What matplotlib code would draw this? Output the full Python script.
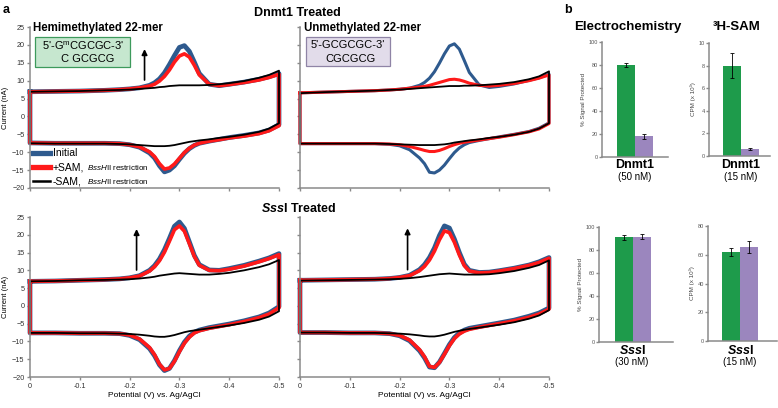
import numpy as np
import matplotlib
matplotlib.use('Agg')
import matplotlib.pyplot as plt
from matplotlib.patches import Rectangle
from matplotlib.lines import Line2D

plt.rcParams['font.family'] = ['Liberation Sans', 'DejaVu Sans']
plt.rcParams['mathtext.fontset'] = 'custom'
plt.rcParams['mathtext.rm'] = 'Liberation Sans'
plt.rcParams['mathtext.it'] = 'Liberation Sans:italic'
plt.rcParams['mathtext.bf'] = 'Liberation Sans:bold'
try:
    plt.rcParams['mathtext.bfit'] = 'Liberation Sans:italic:bold'
    HAS_BFIT = True
except KeyError:
    HAS_BFIT = False

W, H = 778, 408

COLOR_INITIAL = '#2e5a8e'
COLOR_SAM = '#ff1a1a'
COLOR_NOSAM = 'black'
COLOR_HEMI = '#1e9b4b'
COLOR_UNMETH = '#9b86be'
AXIS_GREY = '#8a8a8a'

# potential magnitude (V), plotted as negative values
potential = [0.00, 0.05, 0.10, 0.15, 0.18, 0.20, 0.22, 0.24, 0.25, 0.26, 0.27, 0.28, 0.29,
             0.30, 0.31, 0.32, 0.33, 0.34, 0.36, 0.38, 0.40, 0.43, 0.46, 0.48, 0.50]

# Dnmt1, hemimethylated
hemi_init_ox = [6.9, 7.0, 7.1, 7.3, 7.5, 7.7, 8.0, 8.7, 9.4, 10.5, 12.2, 14.5, 17.0, 19.3, 19.8, 18.2, 15.2, 12.0, 9.0, 8.6, 9.0, 9.6, 10.4, 11.1, 12.0]
hemi_sam_ox = [6.9, 7.0, 7.1, 7.3, 7.5, 7.7, 8.0, 8.5, 9.0, 9.9, 11.2, 13.0, 15.2, 16.9, 17.5, 16.6, 14.3, 11.6, 9.0, 8.6, 8.9, 9.5, 10.2, 10.9, 11.8]
hemi_nosam_ox = [6.9, 7.0, 7.1, 7.3, 7.4, 7.5, 7.7, 7.9, 8.0, 8.2, 8.3, 8.5, 8.6, 8.7, 8.7, 8.7, 8.7, 8.7, 8.8, 9.0, 9.3, 9.9, 10.8, 11.6, 12.8]
hemi_init_red = [-7.4, -7.5, -7.5, -7.5, -7.6, -7.9, -8.6, -10.2, -11.6, -13.8, -15.5, -15.0, -13.8, -12.0, -10.3, -9.0, -8.1, -7.5, -6.9, -6.4, -5.9, -5.3, -4.6, -3.8, -2.3]
hemi_sam_red = [-7.4, -7.5, -7.5, -7.5, -7.6, -7.9, -8.5, -9.9, -11.2, -13.2, -14.7, -14.4, -13.3, -11.7, -10.1, -8.9, -8.0, -7.5, -6.9, -6.5, -6.0, -5.5, -4.8, -4.0, -2.6]
hemi_nosam_red = [-7.5, -7.6, -7.6, -7.6, -7.7, -7.8, -8.0, -8.2, -8.3, -8.3, -8.3, -8.2, -8.0, -7.7, -7.4, -7.1, -6.9, -6.7, -6.4, -6.0, -5.7, -5.1, -4.3, -3.4, -1.9]

# Dnmt1, unmethylated
unmeth_init_ox = [6.6, 6.8, 7.0, 7.2, 7.4, 7.6, 7.9, 8.7, 9.5, 10.7, 12.5, 14.9, 17.5, 19.7, 20.3, 18.8, 15.6, 12.3, 8.8, 8.1, 8.4, 9.1, 10.1, 10.8, 11.8]
unmeth_sam_ox = [6.6, 6.8, 7.0, 7.2, 7.4, 7.6, 7.9, 8.2, 8.4, 8.7, 9.1, 9.5, 9.9, 10.3, 10.4, 10.2, 9.8, 9.3, 8.7, 8.5, 8.7, 9.2, 10.0, 10.7, 11.6]
unmeth_nosam_ox = [6.5, 6.8, 7.0, 7.2, 7.4, 7.5, 7.7, 7.9, 8.0, 8.1, 8.2, 8.3, 8.4, 8.5, 8.5, 8.5, 8.6, 8.6, 8.7, 8.9, 9.1, 9.6, 10.4, 11.2, 12.6]
unmeth_init_red = [-7.6, -7.6, -7.6, -7.6, -7.8, -8.2, -9.3, -11.6, -13.2, -15.6, -15.8, -15.0, -13.6, -11.8, -10.1, -8.8, -7.9, -7.3, -6.7, -6.2, -5.7, -5.0, -4.2, -3.3, -1.8]
unmeth_sam_red = [-7.6, -7.6, -7.6, -7.6, -7.7, -7.9, -8.4, -9.1, -9.5, -9.8, -9.8, -9.5, -9.0, -8.4, -7.9, -7.5, -7.2, -7.0, -6.6, -6.2, -5.8, -5.1, -4.3, -3.5, -2.0]
unmeth_nosam_red = [-7.6, -7.6, -7.6, -7.6, -7.7, -7.8, -7.9, -8.0, -8.0, -8.0, -8.0, -7.9, -7.8, -7.6, -7.3, -7.1, -6.9, -6.7, -6.4, -6.0, -5.7, -5.1, -4.3, -3.4, -1.9]

# SssI, hemimethylated
sss_hemi_init_ox = [6.9, 7.0, 7.2, 7.4, 7.6, 7.9, 8.5, 10.0, 11.3, 13.2, 15.8, 19.0, 22.4, 23.6, 21.8, 18.0, 14.2, 11.6, 10.1, 10.0, 10.5, 11.4, 12.6, 13.5, 14.7]
sss_hemi_sam_ox = [6.9, 7.0, 7.2, 7.4, 7.6, 7.9, 8.4, 9.8, 11.0, 12.7, 15.1, 18.2, 21.4, 22.5, 21.0, 17.5, 13.9, 11.4, 10.0, 9.9, 10.3, 11.2, 12.4, 13.3, 14.4]
sss_hemi_nosam_ox = [6.9, 7.0, 7.2, 7.3, 7.4, 7.5, 7.7, 8.0, 8.2, 8.5, 8.7, 8.9, 9.1, 9.2, 9.1, 9.0, 8.9, 8.8, 8.8, 9.0, 9.3, 10.0, 10.9, 11.7, 12.9]
sss_hemi_init_red = [-7.6, -7.6, -7.7, -7.7, -7.8, -8.3, -9.5, -12.0, -14.0, -16.6, -18.2, -17.6, -15.4, -12.6, -10.2, -8.5, -7.4, -6.8, -6.1, -5.6, -5.1, -4.2, -3.1, -2.0, -0.2]
sss_hemi_sam_red = [-7.6, -7.6, -7.7, -7.7, -7.8, -8.2, -9.3, -11.7, -13.7, -16.4, -18.0, -17.6, -15.6, -12.9, -10.5, -8.8, -7.6, -7.0, -6.3, -5.8, -5.3, -4.4, -3.3, -2.3, -0.5]
sss_hemi_nosam_red = [-7.6, -7.6, -7.7, -7.7, -7.8, -7.9, -8.1, -8.4, -8.6, -8.7, -8.7, -8.5, -8.2, -7.8, -7.4, -7.1, -6.9, -6.7, -6.3, -5.9, -5.5, -4.8, -3.9, -3.0, -1.5]

# SssI, unmethylated
sss_unmeth_init_ox = [7.2, 7.3, 7.4, 7.5, 7.7, 8.0, 8.6, 10.2, 11.6, 13.6, 16.3, 19.8, 22.5, 21.9, 18.8, 15.0, 11.7, 10.0, 9.4, 9.5, 9.9, 10.6, 11.5, 12.4, 13.6]
sss_unmeth_sam_ox = [7.2, 7.3, 7.4, 7.5, 7.7, 8.0, 8.5, 9.9, 11.1, 12.9, 15.4, 18.6, 21.1, 20.6, 17.9, 14.3, 11.3, 9.8, 9.3, 9.4, 9.8, 10.5, 11.4, 12.2, 13.4]
sss_unmeth_nosam_ox = [7.1, 7.2, 7.3, 7.4, 7.5, 7.6, 7.8, 8.1, 8.3, 8.5, 8.7, 8.9, 9.0, 9.1, 9.0, 8.9, 8.8, 8.8, 8.8, 8.9, 9.2, 9.8, 10.7, 11.5, 12.8]
sss_unmeth_init_red = [-7.5, -7.5, -7.6, -7.6, -7.8, -8.4, -9.8, -12.6, -14.6, -17.2, -17.4, -15.8, -13.4, -10.9, -8.9, -7.6, -6.8, -6.3, -5.8, -5.3, -4.8, -4.0, -2.9, -2.0, -0.6]
sss_unmeth_sam_red = [-7.5, -7.5, -7.6, -7.6, -7.8, -8.3, -9.6, -12.3, -14.3, -17.0, -17.3, -15.9, -13.6, -11.2, -9.2, -7.9, -7.1, -6.6, -6.0, -5.5, -5.0, -4.2, -3.2, -2.3, -0.9]
sss_unmeth_nosam_red = [-7.5, -7.5, -7.6, -7.6, -7.7, -7.8, -8.0, -8.3, -8.5, -8.6, -8.6, -8.4, -8.1, -7.7, -7.3, -7.0, -6.7, -6.5, -6.1, -5.7, -5.3, -4.6, -3.6, -2.7, -1.2]

x_tick_values = [0, -0.1, -0.2, -0.3, -0.4, -0.5]
x_tick_labels = ['0', '-0.1', '-0.2', '-0.3', '-0.4', '-0.5']

# panel b bars: [hemimethylated, unmethylated]
ec_dnmt1 = [80, 18]
ec_dnmt1_err = [1.8, 2.0]
sam_dnmt1 = [8.0, 0.65]
sam_dnmt1_err = [1.1, 0.08]
ec_sss = [91, 91.5]
ec_sss_err = [2.0, 2.0]
sam_sss = [62, 65.5]
sam_sss_err = [3.0, 4.0]

fig = plt.figure(figsize=(W / 100, H / 100), dpi=100)


def px_axes(x0, y0, x1, y1):
    return fig.add_axes([x0 / W, 1 - y1 / H, (x1 - x0) / W, (y1 - y0) / H])


def px_text(x, y, s, **kw):
    kw.setdefault('va', 'center')
    return fig.text(x / W, 1 - y / H, s, **kw)


def sss_label(x_center, x_split, y, tail, size=9):
    # bold-italic "Sss" followed by upright bold tail
    if HAS_BFIT:
        px_text(x_center, y, '$\\mathbfit{Sss}$' + tail, fontsize=size, fontweight='bold', ha='center')
    else:
        px_text(x_split, y, 'Sss', fontsize=size, fontweight='bold', style='italic', ha='right')
        px_text(x_split - 1, y, tail, fontsize=size, fontweight='bold', ha='left')


def style_spines(ax):
    for s in ['top', 'right']:
        ax.spines[s].set_visible(False)
    for s in ['left', 'bottom']:
        ax.spines[s].set_color(AXIS_GREY)
        ax.spines[s].set_linewidth(1.1)
    ax.tick_params(color=AXIS_GREY, width=1.0, length=2.5, labelcolor='#333333')


def cv_panel(ax, curves, show_x, show_y):
    E = -np.array(potential)
    for up, down, color, lw in curves:
        xs = np.concatenate([E, E[::-1], E[:1]])
        ys = np.concatenate([up, down[::-1], up[:1]])
        ax.plot(xs, ys, color=color, lw=lw, solid_joinstyle='round', clip_on=False)
    ax.set_xlim(0, -0.5)
    ax.set_ylim(-20, 25)
    ax.set_xticks(x_tick_values)
    ax.set_yticks(range(-20, 26, 5))
    style_spines(ax)
    ax.tick_params(labelsize=5.2, pad=1.5)
    if show_x:
        ax.set_xticklabels(x_tick_labels)
        ax.set_xlabel('Potential (V) vs. Ag/AgCl', fontsize=6, labelpad=2)
    else:
        ax.set_xticklabels([])
    if show_y:
        ax.set_ylabel('Current (nA)', fontsize=5.5, labelpad=2)
    else:
        ax.set_yticklabels([])


ax_tl = px_axes(30, 27, 279, 188)
ax_tr = px_axes(300, 27, 549, 188)
ax_bl = px_axes(30, 217, 279, 377)
ax_br = px_axes(300, 217, 549, 377)

cv_panel(ax_tl, [(hemi_init_ox, hemi_init_red, COLOR_INITIAL, 3.4),
                 (hemi_sam_ox, hemi_sam_red, COLOR_SAM, 2.6),
                 (hemi_nosam_ox, hemi_nosam_red, COLOR_NOSAM, 1.3)], False, True)
cv_panel(ax_tr, [(unmeth_init_ox, unmeth_init_red, COLOR_INITIAL, 2.2),
                 (unmeth_sam_ox, unmeth_sam_red, COLOR_SAM, 2.2),
                 (unmeth_nosam_ox, unmeth_nosam_red, COLOR_NOSAM, 1.3)], False, False)
cv_panel(ax_bl, [(sss_hemi_init_ox, sss_hemi_init_red, COLOR_INITIAL, 3.4),
                 (sss_hemi_sam_ox, sss_hemi_sam_red, COLOR_SAM, 2.6),
                 (sss_hemi_nosam_ox, sss_hemi_nosam_red, COLOR_NOSAM, 1.3)], True, True)
cv_panel(ax_br, [(sss_unmeth_init_ox, sss_unmeth_init_red, COLOR_INITIAL, 3.4),
                 (sss_unmeth_sam_ox, sss_unmeth_sam_red, COLOR_SAM, 2.6),
                 (sss_unmeth_nosam_ox, sss_unmeth_nosam_red, COLOR_NOSAM, 1.3)], True, False)

arrow_kw = dict(arrowstyle='-|>', color='black', lw=1.2, mutation_scale=8)
ax_tl.annotate('', xy=(-0.23, 19.6), xytext=(-0.23, 9.4), arrowprops=arrow_kw)
ax_bl.annotate('', xy=(-0.214, 22.4), xytext=(-0.214, 9.3), arrowprops=arrow_kw)
ax_br.annotate('', xy=(-0.216, 22.6), xytext=(-0.216, 9.4), arrowprops=arrow_kw)

# sequence boxes
fig.add_artist(Rectangle((35 / W, 1 - 67 / H), 95 / W, 30 / H, transform=fig.transFigure,
                         facecolor='#c6e7cf', edgecolor='#3d9a5c', lw=0.9))
fig.add_artist(Rectangle((306 / W, 1 - 66 / H), 84 / W, 29 / H, transform=fig.transFigure,
                         facecolor='#e2dcea', edgecolor='#8f84a6', lw=0.9))
px_text(83, 45.5, "5'-G$^{\\mathrm{m}}$CGCGC-3'", ha='center', fontsize=8.0)
px_text(88, 59, 'C GCGCG', ha='center', fontsize=8.0)
px_text(348, 45.5, "5'-GCGCGC-3'", ha='center', fontsize=8.0)
px_text(350, 59, 'CGCGCG', ha='center', fontsize=8.0)

# legend
legend_rows = [(153, COLOR_INITIAL, 3.8, 'Initial', False),
               (167, COLOR_SAM, 3.8, '+SAM,', True),
               (181, COLOR_NOSAM, 1.8, '-SAM,', True)]
for y, color, lw, main, extra in legend_rows:
    fig.add_artist(Line2D([33 / W, 50 / W], [1 - y / H] * 2, transform=fig.transFigure, color=color, lw=lw))
    px_text(53, y, main, fontsize=7.5, ha='left')
    if extra:
        px_text(87, y + 0.5, '$\\it{BssH}$II restriction', fontsize=5.8, ha='left')

# panel titles
px_text(3, 10, 'a', fontsize=9, fontweight='bold')
px_text(297, 13, 'Dnmt1 Treated', fontsize=9, fontweight='bold', ha='center')
sss_label(299, 281, 208, 'I Treated')
px_text(33, 28, 'Hemimethylated 22-mer', fontsize=8.3, fontweight='bold')
px_text(304, 28, 'Unmethylated 22-mer', fontsize=8.3, fontweight='bold')

px_text(564, 10, 'b', fontsize=9, fontweight='bold')
px_text(628, 27, 'Electrochemistry', fontsize=9.5, fontweight='bold', ha='center')
px_text(737, 27, '³H-SAM', fontsize=9.5, fontweight='bold', ha='center')


def bar_panel(x0, y0, x1, y1, bar_left, values, errs, ymax, ystep, ylabel):
    ax = px_axes(x0, y0, x1, y1)
    unit = 18.0
    left = -0.5 - (bar_left - x0) / unit
    ax.bar([0, 1], values, width=1.0, color=[COLOR_HEMI, COLOR_UNMETH], yerr=errs,
           error_kw=dict(ecolor='black', elinewidth=0.6, capsize=1.2, capthick=0.6))
    ax.set_xlim(left, left + (x1 - x0) / unit)
    ax.set_ylim(0, ymax)
    ax.set_yticks(np.arange(0, ymax + 0.01, ystep))
    ax.set_xticks([])
    style_spines(ax)
    ax.tick_params(labelsize=4, pad=1, length=2, labelcolor='#555555')
    ax.set_ylabel(ylabel, fontsize=4.5, labelpad=2, color='#444444')
    return ax


bar_panel(602, 42, 668, 157, 617, ec_dnmt1, ec_dnmt1_err, 100, 20, '% Signal Protected')
bar_panel(709, 43, 770, 156, 723, sam_dnmt1, sam_dnmt1_err, 10, 2, 'CPM (x 10³)')
bar_panel(599, 227, 673, 342, 615, ec_sss, ec_sss_err, 100, 20, '% Signal Protected')
bar_panel(708, 226, 777, 341, 722, sam_sss, sam_sss_err, 80, 20, 'CPM (x 10³)')

px_text(635, 165, 'Dnmt1', fontsize=9, fontweight='bold', ha='center')
px_text(635, 177, '(50 nM)', fontsize=7, ha='center')
px_text(741, 165, 'Dnmt1', fontsize=9, fontweight='bold', ha='center')
px_text(741, 177, '(15 nM)', fontsize=7, ha='center')
sss_label(632, 638, 350, 'I')
px_text(632, 362, '(30 nM)', fontsize=7, ha='center')
sss_label(740, 746, 350, 'I')
px_text(740, 362, '(15 nM)', fontsize=7, ha='center')

fig.savefig('out.png', dpi=100)
